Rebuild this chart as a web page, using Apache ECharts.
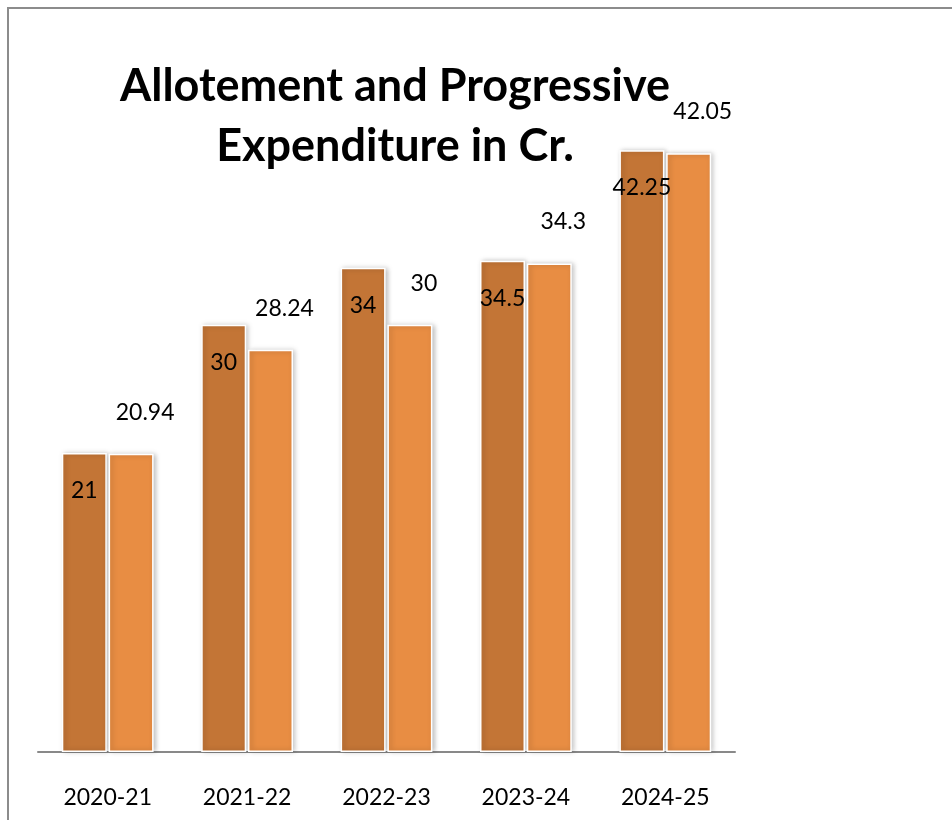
<!DOCTYPE html>
<html>
<head>
<meta charset="utf-8">
<script src="https://cdn.jsdelivr.net/npm/echarts@6/dist/echarts.min.js"></script>
<style>
  html, body { margin: 0; padding: 0; background: #fff; }
  #frame { position: absolute; left: 7px; top: 7px; width: 1000px; height: 900px;
           border-top: 2px solid #8c8c8c; border-left: 2px solid #8c8c8c; }
  #chart { position: absolute; left: 0; top: 0; width: 952px; height: 820px; }
</style>
</head>
<body>
<div id="frame"></div>
<div id="chart"></div>
<script>
// chart data
const years = ['2020-21', '2021-22', '2022-23', '2023-24', '2024-25'];
const allotment = [21, 30, 34, 34.5, 42.25];
const expenditure = [20.94, 28.24, 30, 34.3, 42.05];

const chart = echarts.init(document.getElementById('chart'));

const labelFont = {
    fontFamily: 'Lato',
    fontSize: 23,
    color: '#000'
};

chart.setOption({
    animation: false,
    title: {
        text: 'Allotement and Progressive\nExpenditure in Cr.',
        left: 390,
        top: 51,
        textAlign: 'center',
        textStyle: {
            fontFamily: 'Lato',
            fontWeight: 'bold',
            fontSize: 45,
            lineHeight: 60,
            color: '#000'
        }
    },
    grid: {
        left: 38,
        right: 217,
        top: 40,
        bottom: 68
    },
    xAxis: {
        type: 'category',
        data: years,
        axisLine: { lineStyle: { color: '#898989', width: 2 } },
        axisTick: { show: false },
        axisLabel: Object.assign({ margin: 34 }, labelFont)
    },
    yAxis: {
        type: 'value',
        min: 0,
        max: 50,
        show: false,
        splitLine: { show: false }
    },
    series: [
        {
            name: 'Allotment',
            type: 'bar',
            data: allotment,
            barWidth: 45,
            barGap: '4%',
            itemStyle: {
                color: '#c37536',
                borderColor: '#fff',
                borderWidth: 1.5,
                shadowBlur: 5,
                shadowColor: 'rgba(0,0,0,0.25)',
                shadowOffsetX: 2
            },
            label: Object.assign({
                show: true,
                position: 'insideTop',
                distance: 26
            }, labelFont)
        },
        {
            name: 'Expenditure',
            type: 'bar',
            data: expenditure,
            barWidth: 45,
            itemStyle: {
                color: '#e88d43',
                borderColor: '#fff',
                borderWidth: 1.5,
                shadowBlur: 5,
                shadowColor: 'rgba(0,0,0,0.25)',
                shadowOffsetX: 2
            },
            label: Object.assign({
                show: true,
                position: 'top',
                distance: 30,
                offset: [14, 0]
            }, labelFont)
        }
    ]
});
</script>
</body>
</html>
